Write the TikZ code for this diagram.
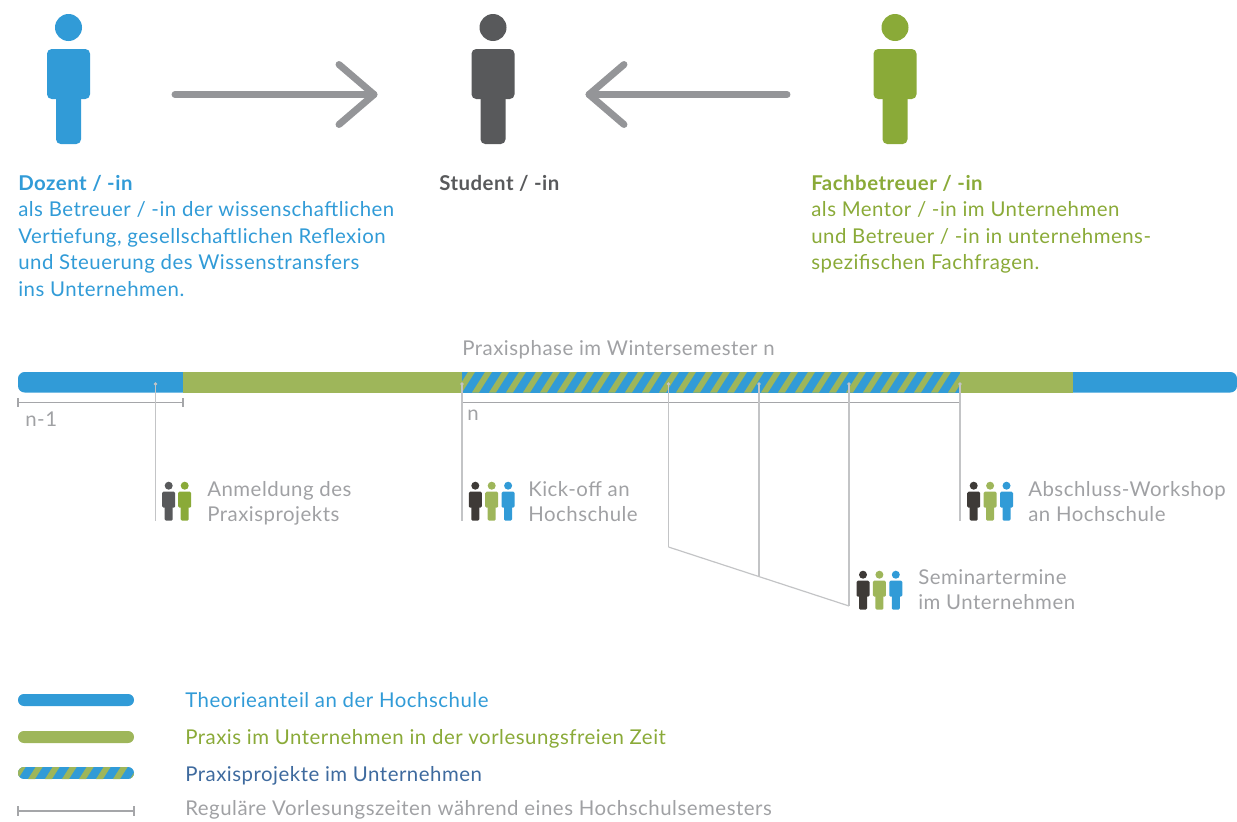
\documentclass[tikz,border=0pt]{standalone}
\usepackage{fontspec}
\setmainfont[LetterSpace=2.5]{Lato}
\usetikzlibrary{calc}
\definecolor{blau}{RGB}{49,155,215}
\definecolor{gruen}{RGB}{158,182,90}
\definecolor{gruenfig}{RGB}{138,170,56}
\definecolor{dunkel}{RGB}{88,89,91}
\definecolor{braun}{RGB}{62,58,55}
\definecolor{pfeil}{RGB}{148,149,152}
\definecolor{linie}{RGB}{195,196,198}
\definecolor{klammer}{RGB}{165,166,169}
\definecolor{schrift}{RGB}{160,161,164}
\definecolor{projekt}{RGB}{62,106,158}
\tikzset{
	person/.pic={
		\fill (0,13.5) circle (13.5);
		\fill[rounded corners=3.5] (-21.5,35) rectangle (21.5,85);
		\fill[rounded corners=3.5] (-12.5,75) rectangle (12.5,130);
	},
	klein/.pic={
		\fill (0,4) circle (4);
		\fill[rounded corners=1] (-6.5,10) rectangle (6.5,26);
		\fill[rounded corners=1] (-4,22) rectangle (4,39);
	},
	kopf/.style={anchor=north west,inner sep=0pt,align=left,font=\fontsize{15.3}{19.8}\selectfont},
	notiz/.style={kopf,text=schrift,font=\fontsize{15.3}{19}\selectfont},
	zeile/.style={line width=0.9pt,color=linie},
	klammerlinie/.style={line width=1.1pt,color=klammer},
	punkt/.style={fill=linie,draw=none},
	pfeillinie/.style={line width=5.2pt,color=pfeil,line cap=round,line join=round},
}
\newcommand{\streifen}[4]{% Clip-Pfad, Ecke oben, Ecke unten, Versatz
	\begin{scope}
		\clip #1;
		\fill[blau] #2 rectangle #3;
		\foreach \sx in {#4} {
			\fill[gruen] ($#2+(\sx,20.5)$) -- ++(7,0) -- ++(13,-20.5) -- ++(-7,0) -- cycle;
		}
	\end{scope}
}
\begin{document}
\begin{tikzpicture}[x=0.75pt,y=-0.75pt]
	\useasboundingbox (0,0) rectangle (1237,821);

	% grosse Figuren
	\pic[color=blau] (dozent) at (68.5,14) {person};
	\pic[color=dunkel] (student) at (493,14) {person};
	\pic[color=gruenfig] (betreuer) at (895,14) {person};

	% Pfeile
	\coordinate (linksA) at (175,94.5);
	\coordinate (linksB) at (374,94.5);
	\coordinate (rechtsA) at (787,94.5);
	\coordinate (rechtsB) at (589,94.5);
	\draw[pfeillinie] (linksA) -- (linksB);
	\draw[pfeillinie] ($(linksB)+(-35,-30)$) -- (linksB) -- ($(linksB)+(-35,30)$);
	\draw[pfeillinie] (rechtsA) -- (rechtsB);
	\draw[pfeillinie] ($(rechtsB)+(35,-30)$) -- (rechtsB) -- ($(rechtsB)+(35,30)$);

	% Texte oben
	\node[kopf,text=blau] (dozenttext) at (18,175) {\textbf{Dozent / -in}\\als Betreuer / -in der wissenschaftlichen\\Vertiefung, gesellschaftlichen Reflexion\\und Steuerung des Wissenstransfers\\ins Unternehmen.};
	\node[kopf,text=dunkel] (studenttext) at (439,175) {\textbf{Student / -in}};
	\node[kopf,text=gruenfig] (betreuertext) at (811,175) {\textbf{Fachbetreuer / -in}\\als Mentor / -in im Unternehmen\\und Betreuer / -in in unternehmens-\\spezifischen Fachfragen.};

	% Zeitleiste
	\node[notiz] (phase) at (462,340) {Praxisphase im Wintersemester n};
	\fill[blau,rounded corners=5] (18,372) rectangle (200,392.5);
	\fill[blau,rounded corners=5] (1050,372) rectangle (1237,392.5);
	\fill[gruen] (183,372) rectangle (462,392.5);
	\fill[gruen] (960,372) rectangle (1073,392.5);
	\streifen{(462,372) rectangle (960,392.5)}{(462,372)}{(960,392.5)}{-7,10,...,500}

	% Klammern
	\draw[klammerlinie] (18,398) -- (18,407) (18,402.5) -- (183,402.5) (183,398) -- (183,407);
	\draw[klammerlinie] (462,402.5) -- (462,407) (462,402.5) -- (960,402.5) (960,402.5) -- (960,407);
	\node[notiz] (nminus) at (25,412) {n-1};
	\node[notiz] (nlabel) at (467,410) {n};

	% Termine
	\foreach \tx/\ty in {155.5/521,462/521,668.5/547,759/577,849/606,960/521} {
		\draw[zeile] (\tx,384) -- (\tx,\ty);
		\fill[punkt] (\tx,384) circle (1.9);
	}
	\coordinate (knickA) at (668.5,547);
	\coordinate (knickB) at (849,606);
	\draw[zeile] (knickA) -- (knickB);

	% kleine Figuren
	\pic[color=dunkel] (anm1) at (168.7,481.7) {klein};
	\pic[color=gruenfig] (anm2) at (184.7,481.7) {klein};
	\foreach \px/\py in {475.3/481.7,973.7/481.7,863/570.7} {
		\pic[color=braun] at (\px,\py) {klein};
		\pic[color=gruen] at (\px+16.4,\py) {klein};
		\pic[color=blau] at (\px+32.8,\py) {klein};
	}
	\node[notiz] (anmeldung) at (207,481) {Anmeldung des\\Praxisprojekts};
	\node[notiz] (kickoff) at (528,481) {Kick-off an\\Hochschule};
	\node[notiz] (abschluss) at (1028,481) {Abschluss-Workshop\\an Hochschule};
	\node[notiz] (seminar) at (918,569.5) {Seminartermine\\im Unternehmen};

	% Legende
	\fill[blau,rounded corners=4.4] (18,694) rectangle (134,706);
	\fill[gruen,rounded corners=4.4] (18,731) rectangle (134,743);
	\streifen{[rounded corners=4.4] (18,767) rectangle (134,779)}{(18,758.5)}{(134,779)}{-7,10,...,120}
	\draw[klammerlinie] (18,806) -- (18,816) (18,811) -- (134,811) (134,806) -- (134,816);
	\node[notiz,text=blau] (theorie) at (185,692) {Theorieanteil an der Hochschule};
	\node[notiz,text=gruenfig] (praxis) at (185,729) {Praxis im Unternehmen in der vorlesungsfreien Zeit};
	\node[notiz,text=projekt] (projekte) at (185,766) {Praxisprojekte im Unternehmen};
	\node[notiz] (regulaer) at (185,800.5) {Reguläre Vorlesungszeiten während eines Hochschulsemesters};
\end{tikzpicture}
\end{document}
